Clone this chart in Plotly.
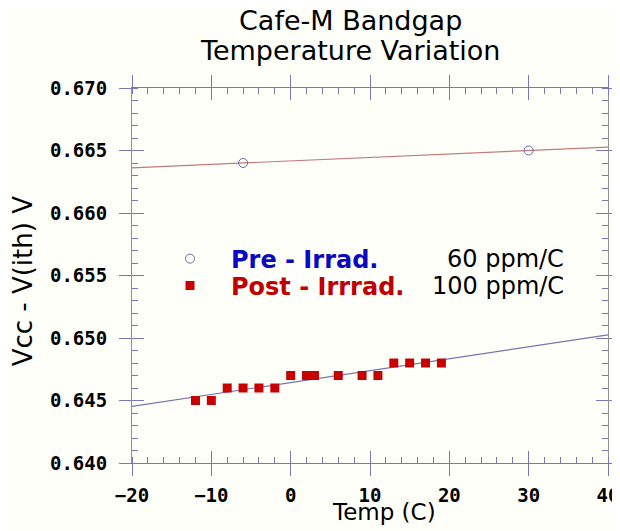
import numpy as np
import plotly.graph_objects as go

# ---- data ----
pre_temp = [-6, 30]
pre_v = [0.664, 0.665]
post_temp = [-12, -10, -8, -6, -4, -2, 0, 2, 3, 6, 9, 11, 13, 15, 17, 19]
post_v = [0.645, 0.645, 0.646, 0.646, 0.646, 0.646, 0.647, 0.647, 0.647,
          0.647, 0.647, 0.647, 0.648, 0.648, 0.648, 0.648]
pre_label = "Pre - Irrad."
post_label = "Post - Irrrad."
pre_coef_text = "60 ppm/C"
post_coef_text = "100 ppm/C"
x_range = [-20, 40]
y_range = [0.640, 0.670]
title_lines = ["Cafe-M Bandgap", "Temperature Variation"]
x_title = "Temp (C)"
y_title = "Vcc - V(ith) V"

AXC = "#7878b8"
BG = "#fffffa"

xs = np.array(x_range, dtype=float)
pre_fit = np.polyval(np.polyfit(pre_temp, pre_v, 1), xs)
post_fit = np.polyval(np.polyfit(post_temp, post_v, 1), xs)

fig = go.Figure()
fig.add_trace(go.Scatter(x=xs, y=pre_fit, mode="lines",
                         line=dict(color="#c07a78", width=1.2),
                         showlegend=False, hoverinfo="skip"))
fig.add_trace(go.Scatter(x=xs, y=post_fit, mode="lines",
                         line=dict(color="#7474b0", width=1.2),
                         showlegend=False, hoverinfo="skip"))
fig.add_trace(go.Scatter(x=pre_temp, y=pre_v, mode="markers", legend="legend",
                         name="<span style='color:#0a0ac0'>" + pre_label + "</span>",
                         marker=dict(symbol="circle-open", size=9,
                                     color="#6a6aa8", line=dict(width=1))))
fig.add_trace(go.Scatter(x=post_temp, y=post_v, mode="markers", legend="legend2",
                         name="<span style='color:#c00000'>" + post_label + "</span>",
                         marker=dict(symbol="square", size=9, color="#c80000")))
# invisible trace on overlay axes (to draw crossing major ticks)
fig.add_trace(go.Scatter(x=pre_temp, y=pre_v, mode="markers", xaxis="x2", yaxis="y2",
                         marker=dict(opacity=0), showlegend=False, hoverinfo="skip"))

tickfont = dict(family="DejaVu Sans Mono", size=19, color="black", weight="bold")
legfont = dict(family="DejaVu Sans", size=24, weight="bold")

fig.update_layout(
    width=612, height=523,
    margin=dict(l=124, r=12, t=80, b=68, autoexpand=False),
    paper_bgcolor=BG, plot_bgcolor=BG,
    xaxis=dict(range=x_range, dtick=10, tick0=0, showgrid=False, zeroline=False,
               showline=True, linecolor=AXC, linewidth=1, mirror="ticks",
               ticks="outside", ticklen=12, tickcolor=AXC, tickwidth=1,
               ticklabelstandoff=3,
               tickfont=tickfont,
               minor=dict(ticks="inside", ticklen=6, dtick=2, tickcolor=AXC, showgrid=False)),
    yaxis=dict(range=y_range, dtick=0.005, tick0=0.64, tickformat=".3f",
               showgrid=False, zeroline=False,
               showline=True, linecolor="#909090", linewidth=1, mirror="ticks",
               ticks="outside", ticklen=12, tickcolor=AXC, tickwidth=1,
               ticklabelstandoff=8,
               tickfont=tickfont,
               minor=dict(ticks="inside", ticklen=6, dtick=0.001, tickcolor=AXC, showgrid=False)),
    xaxis2=dict(range=x_range, dtick=10, tick0=0, overlaying="x", anchor="y2",
                showgrid=False, zeroline=False, showline=False, mirror="ticks",
                ticks="inside", ticklen=12, tickcolor=AXC, showticklabels=False),
    yaxis2=dict(range=y_range, dtick=0.005, tick0=0.64, overlaying="y", anchor="x2",
                showgrid=False, zeroline=False, showline=False, mirror="ticks",
                ticks="inside", ticklen=12, tickcolor=AXC, showticklabels=False),
    legend=dict(x=0.0357, y=0.544, xanchor="left", yanchor="middle",
                bgcolor="rgba(0,0,0,0)", itemwidth=72, font=legfont),
    legend2=dict(x=0.0357, y=0.472, xanchor="left", yanchor="middle",
                 bgcolor="rgba(0,0,0,0)", itemwidth=72, font=legfont),
    showlegend=True,
)

ann_font = dict(family="DejaVu Sans", size=24, color="black")
fig.add_annotation(x=0.912, y=0.544, xref="paper", yref="paper", xanchor="right",
                   yanchor="middle", text=pre_coef_text, showarrow=False, font=ann_font)
fig.add_annotation(x=0.912, y=0.472, xref="paper", yref="paper", xanchor="right",
                   yanchor="middle", text=post_coef_text, showarrow=False, font=ann_font)

tfont = dict(family="DejaVu Sans", size=27, color="black")
fig.add_annotation(x=0.458, y=1.181, xref="paper", yref="paper", xanchor="center",
                   yanchor="middle", text=title_lines[0], showarrow=False, font=tfont)
fig.add_annotation(x=0.458, y=1.101, xref="paper", yref="paper", xanchor="center",
                   yanchor="middle", text=title_lines[1], showarrow=False, font=tfont)

# axis titles
fig.add_annotation(x=0.529, y=-0.131, xref="paper", yref="paper", xanchor="center",
                   yanchor="middle", text=x_title, showarrow=False,
                   font=dict(family="DejaVu Sans", size=23, color="black"))
fig.add_annotation(x=-0.229, y=0.487, xref="paper", yref="paper", xanchor="center",
                   yanchor="middle", text=y_title, showarrow=False, textangle=-90,
                   font=dict(family="DejaVu Sans", size=26, color="black"))

fig.write_html("out.html")
